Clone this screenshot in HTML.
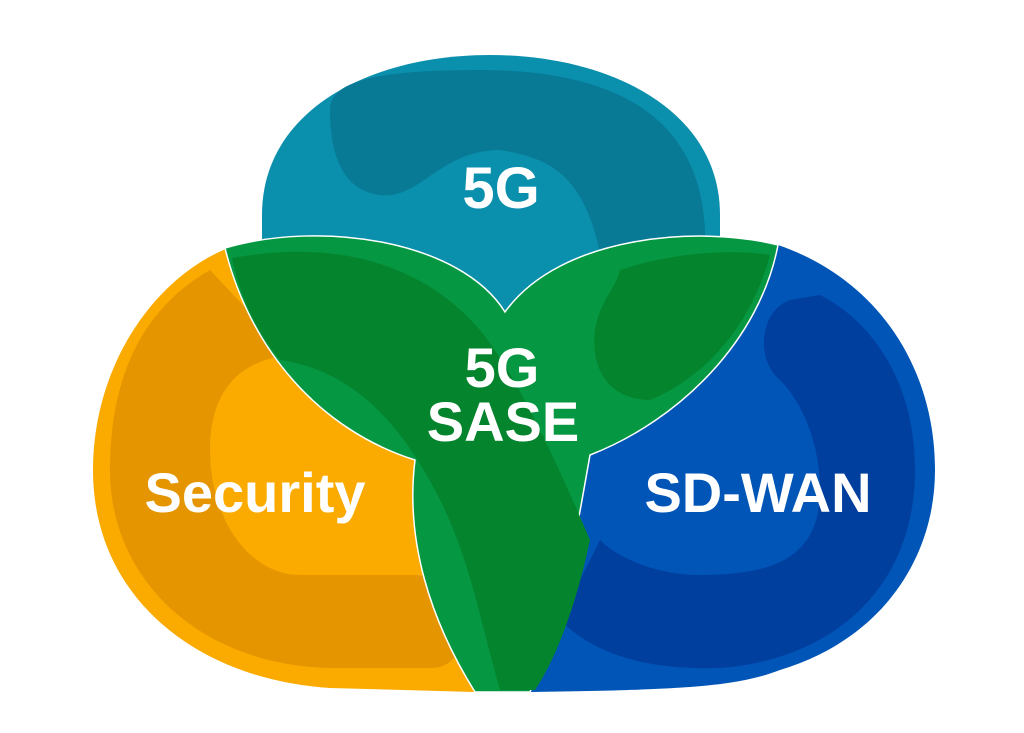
<!DOCTYPE html>
<html><head><style>
html,body{margin:0;padding:0;background:#fff;width:1024px;height:733px;overflow:hidden}
svg{display:block}
text{font-family:"Liberation Sans",sans-serif;font-weight:bold;fill:#fff;text-anchor:middle}
</style></head><body>
<svg width="1024" height="733" viewBox="0 0 1024 733">
<!-- teal -->
<path d="M262,330 L262,215 C262,110 370,55 490,55 C610,55 720,110 720,215 L720,330 Z" fill="#0a8fac"/>
<path d="M330,110 C330,80 380,70 480,70 C620,70 700,120 705,230 L705,330 L610,330 C600,180 560,160 500,150 C440,150 420,200 380,195 C340,190 330,150 330,110 Z" fill="#087a96"/>
<!-- orange -->
<path d="M228,248 C150,280 93,370 93,470 C93,600 200,680 330,688 L475,692 L470,600 L415,460 Z" fill="#fbab00"/>
<path d="M210,270 C140,310 110,380 110,470 C110,580 200,665 330,668 L430,668 C460,668 465,640 462,610 C455,585 440,575 410,575 L300,575 C250,575 210,520 210,450 C210,390 240,360 290,355 Z" fill="#e59500"/>
<!-- blue -->
<path d="M778,245 C880,280 935,370 935,470 C935,560 880,640 780,670 C740,685 700,690 530,692 L590,455 Z" fill="#0055b7"/>
<path d="M790,300 C760,310 755,360 780,380 C800,400 820,440 820,490 C820,560 770,575 700,575 C660,575 620,560 600,540 L560,620 C600,660 660,670 720,668 C830,660 915,590 915,470 C915,380 870,320 820,295 Z" fill="#003f9e"/>
<!-- green -->
<path d="M225,248 C320,220 460,240 505,312 C560,235 700,225 778,245 C760,340 680,420 590,455 C575,540 560,630 530,692 L475,692 C430,620 405,540 415,460 C320,430 250,350 225,248 Z" fill="#069742" stroke="#fff" stroke-width="1.5"/>
<path d="M232,258 C330,240 420,260 480,330 C520,380 560,470 590,540 C575,610 555,660 535,690 L500,690 C480,620 470,560 440,500 C400,420 350,370 280,360 C255,330 240,295 232,258 Z" fill="#05842e"/>
<path d="M620,270 C680,250 740,250 770,255 C750,330 700,380 650,400 C610,400 590,370 595,330 C600,300 615,290 620,270 Z" fill="#05842e"/>
<text x="501" y="208" font-size="58">5G</text>
<text x="502" y="387" font-size="56">5G</text>
<text x="503" y="441" font-size="56">SASE</text>
<text x="255" y="512" font-size="56">Security</text>
<text x="758" y="512" font-size="56">SD-WAN</text>
</svg>
</body></html>
